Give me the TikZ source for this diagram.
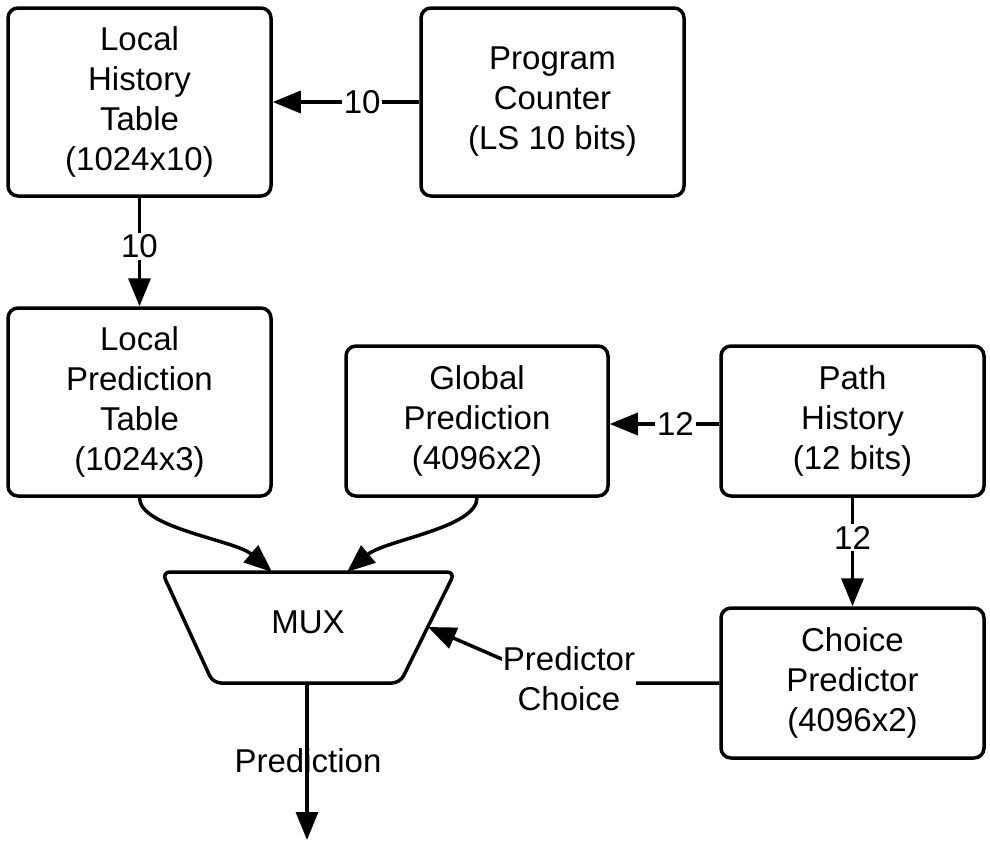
\documentclass[tikz,border=0pt]{standalone}
\usepackage{fontspec}
\setmainfont{Liberation Sans}
\usetikzlibrary{arrows.meta}
\begin{document}
\begin{tikzpicture}[x=1pt,y=-1pt,
  every node/.style={font=\fontsize{33}{40}\selectfont, inner sep=0pt},
  blk/.style={draw, line width=3.5pt, rounded corners=10pt, align=center, minimum width=263pt},
  arr/.style={line width=3.5pt, -{Triangle[length=28pt,width=22pt]}},
  conn/.style={line width=3.5pt},
  lbl/.style={fill=white, inner sep=2pt}]
\useasboundingbox (0,0) rectangle (990,846);
\node[blk, minimum height=188pt] (lht) at (139.5,102) {Local\\History\\Table\\(1024x10)};
\node[blk, minimum height=188pt] (pc) at (552.5,102) {Program\\Counter\\(LS 10 bits)};
\node[blk, minimum height=188pt] (lpt) at (139.5,402) {Local\\Prediction\\Table\\(1024x3)};
\node[blk, minimum width=262pt, minimum height=150pt] (gp) at (477,421) {Global\\Prediction\\(4096x2)};
\node[blk, minimum height=150pt] (ph) at (852.5,421) {Path\\History\\(12 bits)};
\node[blk, minimum height=150pt] (cp) at (852.5,683) {Choice\\Predictor\\(4096x2)};
% MUX
\draw[line width=3.5pt, rounded corners=8pt] (162,572) -- (455,572) -- (400,683) -- (213,683) -- cycle;
\node (mux) at (308,622) {MUX};
\coordinate (muxinl) at (272,572);
\coordinate (muxinr) at (347,572);
\coordinate (muxside) at (428,627);
\coordinate (muxout) at (307,683);
\coordinate (outend) at (307,840);
\coordinate (bend) at (557,683);
% connectors
\draw[arr] (pc.west |- 0,102) -- node[lbl, pos=0.39]{10} (lht.east |- 0,102);
\draw[arr] (lht.south) -- node[lbl, pos=0.45]{10} (lpt.north);
\draw[arr] (ph.west |- 0,424) -- node[lbl, pos=0.4]{12} (gp.east |- 0,424);
\draw[arr] (ph.south) -- node[lbl, pos=0.37]{12} (cp.north);
\draw[arr] (lpt.south) .. controls (139.5,528) and (235,540) .. (muxinl);
\draw[arr] (gp.south) .. controls (477,528) and (385,540) .. (muxinr);
\draw[arr] (cp.west |- 0,683) -- (bend) -- (muxside);
\node[fill=white, align=center, inner sep=1pt] (pcl) at (569,679) {Predictor\\Choice};
\draw[arr] (muxout) -- (outend);
\node (predl) at (308,761) {Prediction};
\end{tikzpicture}
\end{document}
